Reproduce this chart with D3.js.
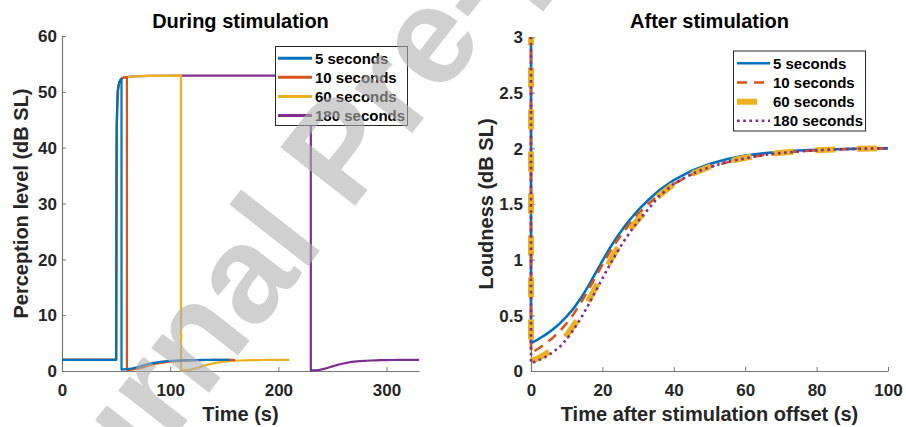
<!DOCTYPE html>
<html>
<head>
<meta charset="utf-8">
<script src="https://cdn.jsdelivr.net/npm/d3@7"></script>
<style>
  html, body { margin: 0; padding: 0; background: #fff; }
  svg { display: block; font-family: "Liberation Sans", Arial, Helvetica, sans-serif; font-weight: bold; }
</style>
</head>
<body>
<svg id="chart" width="906" height="427"></svg>
<script>
// ---- data ----
const seriesNames = ["5 seconds", "10 seconds", "60 seconds", "180 seconds"];
const durations = [5, 10, 60, 180];           // stimulation length (s)
const seriesColors = ["#0072BD", "#D95319", "#EDB120", "#7E2F8E"];

const onsetTime = 50;                          // stimulation onset (s)
const baselineLevel = 2;                       // resting perception level

// perception level during stimulation, time since onset (s)
const riseTime  = [0, 0.2, 0.4, 0.7, 1, 1.5, 2, 3, 4, 5, 7, 10, 15, 30, 60, 120, 180];
const riseLevel = [2, 20, 35, 44, 47.5, 49.8, 50.8, 51.7, 52.1, 52.35, 52.55, 52.65, 52.75, 52.85, 52.9, 52.9, 52.9];

// loudness after stimulation offset, time since offset (s)
const recoveryTime = [0, 2, 4, 6, 8, 10, 12, 14, 16, 18, 20, 22, 24, 26, 28, 30, 33, 36, 40, 45, 50, 55, 60, 65, 70, 75, 80, 85, 90, 95, 100];
const recovery5   = [0.25, 0.285, 0.325, 0.37, 0.425, 0.49, 0.565, 0.655, 0.76, 0.875, 0.99, 1.10, 1.20, 1.29, 1.37, 1.445, 1.54, 1.625, 1.715, 1.80, 1.86, 1.905, 1.935, 1.955, 1.97, 1.98, 1.987, 1.992, 1.995, 1.998, 2.0];
const recovery10  = [0.16, 0.20, 0.245, 0.295, 0.355, 0.43, 0.515, 0.615, 0.725, 0.84, 0.955, 1.065, 1.165, 1.255, 1.335, 1.41, 1.505, 1.59, 1.68, 1.765, 1.83, 1.875, 1.91, 1.94, 1.958, 1.972, 1.982, 1.99, 1.995, 1.998, 2.0];
const recovery60  = [0.09, 0.115, 0.15, 0.195, 0.25, 0.32, 0.41, 0.51, 0.625, 0.745, 0.865, 0.98, 1.09, 1.19, 1.28, 1.36, 1.47, 1.58, 1.68, 1.77, 1.835, 1.88, 1.915, 1.942, 1.96, 1.973, 1.983, 1.99, 1.995, 1.998, 2.0];
const recovery180 = [0.07, 0.095, 0.125, 0.165, 0.215, 0.285, 0.375, 0.475, 0.59, 0.71, 0.83, 0.95, 1.06, 1.165, 1.26, 1.345, 1.46, 1.575, 1.68, 1.77, 1.83, 1.88, 1.91, 1.94, 1.958, 1.972, 1.982, 1.99, 1.995, 1.998, 2.0];
const recoveries = [recovery5, recovery10, recovery60, recovery180];

const leftXTicks  = [0, 100, 200, 300];
const leftYTicks  = [0, 10, 20, 30, 40, 50, 60];
const rightXTicks = [0, 20, 40, 60, 80, 100];
const rightYTicks = [0, 0.5, 1, 1.5, 2, 2.5, 3];
const rightYTickLabels = ["0", "0.5", "1", "1.5", "2", "2.5", "3"];

// ---- derived series ----
function levelAt(dur) { return riseLevel[riseTime.indexOf(dur)]; }

const duringSeries = durations.map((dur, i) => {
  const pts = [[0, baselineLevel], [onsetTime, baselineLevel]];
  riseTime.forEach((t, k) => { if (t <= dur) pts.push([onsetTime + t, riseLevel[k]]); });
  recoveryTime.forEach((t, k) => pts.push([onsetTime + dur + t, recoveries[i][k]]));
  return { name: seriesNames[i], color: seriesColors[i], points: pts };
});

const afterSeries = durations.map((dur, i) => {
  const pts = [[0, levelAt(dur)]];
  recoveryTime.forEach((t, k) => pts.push([t, recoveries[i][k]]));
  return { name: seriesNames[i], color: seriesColors[i], points: pts };
});

// line styles of the right panel
const afterStyles = [
  { width: 2.6, dash: null },
  { width: 2.6, dash: "10,7" },
  { width: 6,   dash: "20,22" },
  { width: 2.6, dash: "2.6,3.6" }
];

// ---- layout ----
const svg = d3.select("#chart");
const textColor = "#262626";
const axisColor = "#777777";

const L = { x0: 62, x1: 419, y0: 371, y1: 36 };
const R = { x0: 531, x1: 888, y0: 371, y1: 37 };

const xL = d3.scaleLinear().domain([0, 330]).range([L.x0, L.x1]);
const yL = d3.scaleLinear().domain([0, 60]).range([L.y0, L.y1]);
const xR = d3.scaleLinear().domain([0, 100]).range([R.x0, R.x1]);
const yR = d3.scaleLinear().domain([0, 3]).range([R.y0, R.y1]);

const defs = svg.append("defs");
defs.append("clipPath").attr("id", "clipL").append("rect")
  .attr("x", L.x0 - 3).attr("y", L.y1).attr("width", L.x1 - L.x0 + 6).attr("height", L.y0 - L.y1 + 3);
defs.append("clipPath").attr("id", "clipR").append("rect")
  .attr("x", R.x0 - 5).attr("y", R.y1).attr("width", R.x1 - R.x0 + 10).attr("height", R.y0 - R.y1 + 4);

function drawAxes(x, y, box, xTicks, yTicks, yFormat) {
  const gx = svg.append("g").attr("transform", `translate(0,${box.y0})`)
    .call(d3.axisBottom(x).tickValues(xTicks).tickSizeInner(-4).tickSizeOuter(0).tickPadding(13).tickFormat(d3.format("d")));
  const gy = svg.append("g").attr("transform", `translate(${box.x0},0)`)
    .call(d3.axisLeft(y).tickValues(yTicks).tickSizeInner(-4).tickSizeOuter(0).tickPadding(yFormat ? 8 : 5).tickFormat(yFormat || d3.format("d")));
  [gx, gy].forEach(g => {
    g.select(".domain").attr("stroke", axisColor).attr("stroke-width", 1.2);
    g.selectAll(".tick line").attr("stroke", axisColor).attr("stroke-width", 1);
    g.selectAll(".tick text").attr("fill", textColor).style("font-size", "17px")
      .style("font-family", "'Liberation Sans', Arial, sans-serif").style("font-weight", "bold");
  });
  gy.selectAll(".tick text").attr("dy", "0.34em");
}

// ---- left panel: during stimulation ----
drawAxes(xL, yL, L, leftXTicks, leftYTicks, null);

const lineL = d3.line().x(d => xL(d[0])).y(d => yL(d[1]));
svg.append("g").attr("clip-path", "url(#clipL)")
  .selectAll("path").data(duringSeries.slice().reverse()).join("path")
  .attr("d", d => lineL(d.points))
  .attr("fill", "none").attr("stroke", d => d.color).attr("stroke-width", 2.2)
  .attr("stroke-linejoin", "round");

svg.append("text").attr("x", (L.x0 + L.x1) / 2).attr("y", 28).attr("text-anchor", "middle")
  .style("font-size", "20px").attr("fill", "#000").text("During stimulation");
svg.append("text").attr("x", (L.x0 + L.x1) / 2).attr("y", 421).attr("text-anchor", "middle")
  .style("font-size", "20px").attr("fill", textColor).text("Time (s)");
svg.append("text").attr("transform", `translate(28,${(L.y0 + L.y1) / 2}) rotate(-90)`).attr("text-anchor", "middle")
  .style("font-size", "20px").attr("fill", textColor).text("Perception level (dB SL)");

// ---- right panel: after stimulation ----
drawAxes(xR, yR, R, rightXTicks, rightYTicks, (d, i) => rightYTickLabels[i]);

const lineR = d3.line().x(d => xR(d[0])).y(d => yR(d[1]));
svg.append("g").attr("clip-path", "url(#clipR)")
  .selectAll("path").data(afterSeries).join("path")
  .attr("d", d => lineR(d.points))
  .attr("fill", "none").attr("stroke", d => d.color)
  .attr("stroke-width", (d, i) => afterStyles[i].width)
  .attr("stroke-dasharray", (d, i) => afterStyles[i].dash)
  .attr("stroke-linejoin", "round");

svg.append("text").attr("x", (R.x0 + R.x1) / 2).attr("y", 28).attr("text-anchor", "middle")
  .style("font-size", "20px").attr("fill", "#000").text("After stimulation");
svg.append("text").attr("x", (R.x0 + R.x1) / 2).attr("y", 421).attr("text-anchor", "middle")
  .style("font-size", "20px").attr("fill", textColor).text("Time after stimulation offset (s)");
svg.append("text").attr("transform", `translate(493,${(R.y0 + R.y1) / 2}) rotate(-90)`).attr("text-anchor", "middle")
  .style("font-size", "20px").attr("fill", textColor).text("Loudness (dB SL)");

// ---- legends ----
function drawLegend(box, rowY, sample, textX, styles) {
  const g = svg.append("g");
  g.append("rect").attr("x", box.x).attr("y", box.y).attr("width", box.w).attr("height", box.h)
    .attr("fill", "#fff").attr("stroke", textColor).attr("stroke-width", 1);
  seriesNames.forEach((name, i) => {
    const y = rowY[i];
    g.append("line").attr("x1", sample[0]).attr("x2", sample[1]).attr("y1", y).attr("y2", y)
      .attr("stroke", seriesColors[i])
      .attr("stroke-width", styles ? styles[i].width : 3)
      .attr("stroke-dasharray", styles ? styles[i].dash : null);
    g.append("text").attr("x", textX).attr("y", y).attr("dy", "0.35em")
      .style("font-size", "15px").attr("fill", "#000").text(name);
  });
}
drawLegend({ x: 275.5, y: 46.5, w: 132, h: 79 }, [58.3, 77.3, 96.5, 115.5], [278, 312], 315, null);
drawLegend({ x: 733.5, y: 51, w: 132, h: 80 }, [63.3, 82.5, 101.7, 120.7], [737, 770], 773, afterStyles);

// ---- watermark ----
svg.append("text")
  .attr("transform", "translate(19,636) rotate(-52)")
  .style("font-size", "138px").style("font-weight", "bold")
  .attr("fill", "#b0b0b0").attr("fill-opacity", 0.6)
  .text("Journal Pre-proof");
</script>
</body>
</html>
